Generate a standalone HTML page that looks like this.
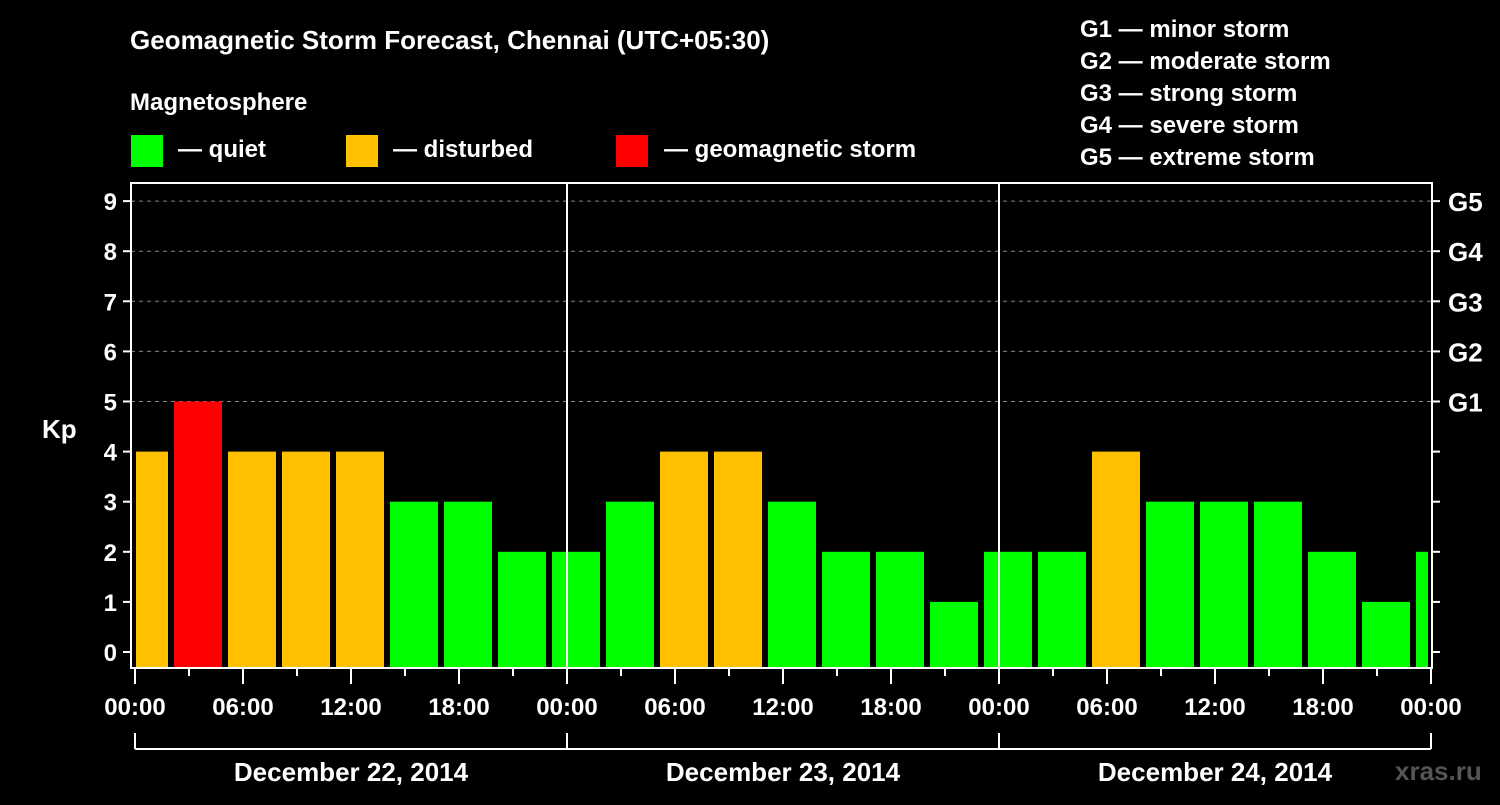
<!DOCTYPE html>
<html><head><meta charset="utf-8"><style>
body{margin:0;background:#000;}
svg text{font-family:"Liberation Sans",Arial,sans-serif;font-weight:bold;fill:#fff;}
</style></head><body>
<svg id="c" width="1500" height="800" viewBox="0 0 1500 800">
<rect width="1500" height="800" fill="#000"/>
<text x="130" y="49" font-size="26">Geomagnetic Storm Forecast, Chennai (UTC+05:30)</text>
<text x="130" y="110" font-size="24">Magnetosphere</text>
<g><rect x="131" y="135" width="32" height="32" fill="#00ff00"/><text x="178" y="157" font-size="24">— quiet</text></g>
<g><rect x="346" y="135" width="32" height="32" fill="#ffc000"/><text x="393" y="157" font-size="24">— disturbed</text></g>
<g><rect x="616" y="135" width="32" height="32" fill="#ff0000"/><text x="664" y="157" font-size="24">— geomagnetic storm</text></g>
<g font-size="24">
<text x="1080" y="37">G1 — minor storm</text>
<text x="1080" y="69">G2 — moderate storm</text>
<text x="1080" y="101">G3 — strong storm</text>
<text x="1080" y="133">G4 — severe storm</text>
<text x="1080" y="165">G5 — extreme storm</text>
</g>
<text x="42" y="438" font-size="26">Kp</text>
<text x="1395" y="780" font-size="26" fill="#666" style="fill:#555">xras.ru</text>
<g id="plot"></g>
</svg>
<script>
const kpValues=[4,5,4,4,4,3,3,2,2,3,4,4,3,2,2,1,2,2,4,3,3,3,2,1,2];
const yTicks=[0,1,2,3,4,5,6,7,8,9];
const gLabels=["G1","G2","G3","G4","G5"];
const xTickLabels=["00:00","06:00","12:00","18:00","00:00","06:00","12:00","18:00","00:00","06:00","12:00","18:00","00:00"];
const dayLabels=["December 22, 2014","December 23, 2014","December 24, 2014"];
const NS="http://www.w3.org/2000/svg";
const L=131,R=1432,T=183,B=668,X0=135;
const x=h=>X0+h*18;
const y=v=>652-v*50.1;
const g=document.getElementById('plot');
function mk(t,a,p){const e=document.createElementNS(NS,t);for(const k in a)e.setAttribute(k,a[k]);(p||g).appendChild(e);return e;}
// grid
for(let v=5;v<=9;v++){const e=mk('line',{x1:L,x2:R,y1:y(v),y2:y(v),stroke:'#888','stroke-dasharray':'4,4','stroke-width':1});

}
// bars
kpValues.forEach((v,k)=>{
 let x1=x(3*k-5/6),x2=x1+48;
 x1=Math.max(x1,136);x2=Math.min(x2,1428);
 const col=v>=5?'#ff0000':(v>=4?'#ffc000':'#00ff00');
 const r=mk('rect',{x:x1,y:y(v),width:x2-x1,height:B-y(v),fill:col});
 
 
});
// day separators
[1,2].forEach(d=>{const e=mk('line',{x1:x(24*d),x2:x(24*d),y1:T,y2:B,stroke:'#fff','stroke-width':2});

});
// frame
const f=mk('rect',{x:L,y:T,width:R-L,height:B-T,fill:'none',stroke:'#fff','stroke-width':2});


// y ticks
yTicks.forEach(v=>{
 mk('line',{x1:L-8,x2:L,y1:y(v),y2:y(v),stroke:'#fff','stroke-width':2});
 mk('line',{x1:R,x2:R+8,y1:y(v),y2:y(v),stroke:'#fff','stroke-width':2});
 const t=mk('text',{x:L-14,y:y(v)+9,'font-size':24,'text-anchor':'end'});t.textContent=v;
 
 
});
gLabels.forEach((s,i)=>{const t=mk('text',{x:1448,y:y(5+i)+10,'font-size':26});t.textContent=s;
 
 });
// x ticks
for(let h=0;h<=72;h+=3){mk('line',{x1:x(h),x2:x(h),y1:B,y2:B+(h%6==0?16:8),stroke:'#fff','stroke-width':2});}
xTickLabels.forEach((s,i)=>{const t=mk('text',{x:x(6*i),y:715,'font-size':24,'text-anchor':'middle'});t.textContent=s;
 
 });
// day brackets
mk('line',{x1:x(0),x2:x(72),y1:749,y2:749,stroke:'#fff','stroke-width':2});
for(let d=0;d<=3;d++)mk('line',{x1:x(24*d),x2:x(24*d),y1:733,y2:749,stroke:'#fff','stroke-width':2});
dayLabels.forEach((s,i)=>{const t=mk('text',{x:x(24*i+12),y:781,'font-size':26,'text-anchor':'middle'});t.textContent=s;
 
 });
</script>
</body></html>
